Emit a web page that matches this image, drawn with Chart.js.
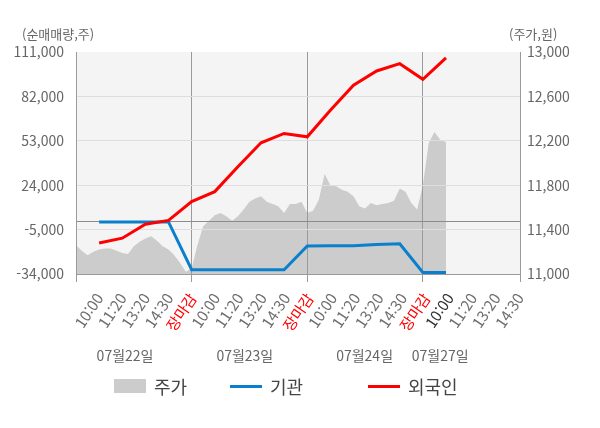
<!DOCTYPE html>
<html lang="ko">
<head>
<meta charset="utf-8">
<title>순매매량 / 주가</title>
<script src="https://cdn.jsdelivr.net/npm/chart.js@4.4.1/dist/chart.umd.min.js"></script>
<style>
    body { margin: 0; background: #fff; }
    #wrap { position: relative; width: 600px; height: 428px; font-family: 'Noto Sans CJK KR', 'Noto Sans', sans-serif; }
    #plotBg { position: absolute; background: #f4f4f4; }
    #flowChart { position: absolute; left: 0; top: 0; }
    .unit { position: absolute; top: 26px; font-size: 13px; line-height: 16px; color: #666; }
    .legend-item { position: absolute; top: 374px; height: 24px; display: flex; align-items: center; font-size: 18px; color: #444; }
    .legend-item i { display: inline-block; width: 32px; margin-right: 8px; }
</style>
</head>
<body>
<div id="wrap">
    <div id="plotBg"></div>
    <canvas id="flowChart" width="600" height="428"></canvas>
    <div class="unit" style="left:22px">(순매매량,주)</div>
    <div class="unit" style="left:509px">(주가,원)</div>
    <div id="legend"></div>
</div>
<script>
// x 축 라벨 (장중 시각)
const timeLabels = [
    '10:00', '11:20', '13:20', '14:30', '장마감',
    '10:00', '11:20', '13:20', '14:30', '장마감',
    '10:00', '11:20', '13:20', '14:30', '장마감',
    '10:00', '11:20', '13:20', '14:30'
];
const dayLabels = ['07월22일', '07월23일', '07월24일', '07월27일'];
const seriesNames = ['주가', '기관', '외국인'];

const volumeTicks = [-34000, -5000, 24000, 53000, 82000, 111000];
const priceTicks = [11000, 11400, 11800, 12200, 12600, 13000];

// 누적 순매매량 (라벨 시각마다 한 점)
const institution = [0, 0, 0, 0, -31200, -31200, -31200, -31200, -31200, -15700, -15600, -15500, -14700, -14300, -33000, -33000];
const foreign = [-13800, -10600, -1500, 1000, 13300, 19800, 36100, 51700, 57800, 55600, 73000, 89300, 98600, 103400, 93200, 107100];

// 주가 (라벨 간격의 1/4 마다)
const priceStep = 0.25;
const price = [
    11260, 11210, 11170, 11200, 11220, 11230, 11230, 11210, 11190, 11180,
    11250, 11290, 11320, 11340, 11300, 11250, 11220, 11170, 11100, 11020,
    11050, 11260, 11430, 11480, 11530, 11550, 11520, 11480, 11520, 11580,
    11650, 11680, 11700, 11650, 11630, 11610, 11550, 11630, 11630, 11650,
    11550, 11570, 11670, 11900, 11800, 11790, 11760, 11740, 11700, 11610,
    11590, 11640, 11620, 11630, 11640, 11660, 11770, 11740, 11640, 11580,
    11800, 12180, 12280, 12210, 12190
];

document.addEventListener("DOMContentLoaded", function () {
    const xMax = 19.2;
    const grey = '#9a9a9a';

    Chart.defaults.font.family = "'Noto Sans CJK KR', 'Noto Sans', sans-serif";
    Chart.defaults.font.size = 14;
    Chart.defaults.color = '#666';

    // 차트 영역 배경은 캔버스 뒤의 div 로 (그리드가 주가 영역 위에 보이도록)
    const plotBackground = {
        id: 'plotBackground',
        afterLayout(chart) {
            const a = chart.chartArea;
            const bg = document.getElementById('plotBg');
            bg.style.left = a.left + 'px';
            bg.style.top = a.top + 'px';
            bg.style.width = (a.right - a.left) + 'px';
            bg.style.height = (a.bottom - a.top) + 'px';
        }
    };

    const ctx = document.getElementById('flowChart').getContext('2d');
    new Chart(ctx, {
        type: 'line',
        data: {
            datasets: [{
                label: seriesNames[0],
                data: price.map((v, i) => ({ x: i * priceStep, y: v })),
                yAxisID: 'y1',
                backgroundColor: '#cccccc',
                borderWidth: 0,
                pointRadius: 0,
                fill: 'start',
                order: 3
            }, {
                label: seriesNames[1],
                data: institution.map((v, i) => ({ x: i + 1, y: v })),
                yAxisID: 'y',
                borderColor: '#0a80cc',
                borderWidth: 3,
                pointRadius: 0,
                fill: false,
                order: 2
            }, {
                label: seriesNames[2],
                data: foreign.map((v, i) => ({ x: i + 1, y: v })),
                yAxisID: 'y',
                borderColor: '#ff0000',
                borderWidth: 3,
                pointRadius: 0,
                fill: false,
                order: 1
            }]
        },
        options: {
            responsive: false,
            animation: false,
            events: [],
            layout: { padding: { top: 52, left: 0, right: 0, bottom: 60 } },
            plugins: {
                legend: { display: false },
                tooltip: { enabled: false },
                filler: { drawTime: 'beforeDraw' }
            },
            scales: {
                x: {
                    type: 'linear', position: 'bottom', weight: 0,
                    min: 0, max: xMax,
                    afterBuildTicks: s => { s.ticks = [0, 5, 10, 15, xMax].map(v => ({ value: v })); },
                    ticks: { display: false },
                    grid: {
                        color: c => (c.tick && (c.tick.value === 0 || c.tick.value === xMax)) ? 'rgba(0,0,0,0)' : grey,
                        tickColor: grey,
                        tickLength: 8
                    },
                    border: { color: grey },
                    afterFit: s => { s.height = 8; }
                },
                xTime: {
                    type: 'linear', position: 'bottom', weight: 1,
                    min: 0, max: xMax,
                    afterBuildTicks: s => { s.ticks = timeLabels.map((_, i) => ({ value: (i + 1) * xMax / timeLabels.length })); },
                    grid: { display: false },
                    border: { display: false },
                    ticks: {
                        autoSkip: false,
                        minRotation: 56,
                        maxRotation: 56,
                        padding: 0,
                        font: { size: 15 },
                        color: c => timeLabels[c.index] === '장마감' ? '#ff0000' : (c.index === 15 ? '#333' : '#6e6e6e'),
                        callback: (v, i) => timeLabels[i]
                    },
                    afterFit: s => { s.height = 56; }
                },
                xDay: {
                    type: 'linear', position: 'bottom', weight: 2,
                    min: 0, max: xMax,
                    afterBuildTicks: s => { s.ticks = [2.12, 7.3, 12.48, 15.75].map(v => ({ value: v })); },
                    grid: { display: false },
                    border: { display: false },
                    ticks: { autoSkip: false, maxRotation: 0, padding: 1, callback: (v, i) => dayLabels[i] },
                    afterFit: s => { s.height = 30; }
                },
                y: {
                    position: 'left',
                    min: volumeTicks[0], max: volumeTicks[volumeTicks.length - 1],
                    afterBuildTicks: s => {
                        s.ticks = volumeTicks.concat([0]).sort((a, b) => a - b).map(v => ({ value: v }));
                    },
                    ticks: {
                        autoSkip: false,
                        padding: 12,
                        callback: v => v === 0 ? '' : v.toLocaleString('en-US')
                    },
                    grid: {
                        drawTicks: false,
                        color: c => {
                            if (!c.tick) return '#dedede';
                            if (c.tick.value === 0) return '#8c8c8c';
                            if (c.tick.value === volumeTicks[volumeTicks.length - 1]) return 'rgba(0,0,0,0)';
                            return '#dedede';
                        }
                    },
                    border: { color: grey },
                    afterFit: s => { s.width = 76; }
                },
                y1: {
                    position: 'right',
                    min: priceTicks[0], max: priceTicks[priceTicks.length - 1],
                    afterBuildTicks: s => { s.ticks = priceTicks.map(v => ({ value: v })); },
                    ticks: { autoSkip: false, padding: 7, callback: v => v.toLocaleString('en-US') },
                    grid: { drawOnChartArea: false, drawTicks: false },
                    border: { color: grey },
                    afterFit: s => { s.width = 80; }
                }
            }
        },
        plugins: [plotBackground]
    });

    // 범례
    const legend = document.getElementById('legend');
    const swatches = [
        { left: 114, style: 'height:14px;background:#cccccc' },
        { left: 230, style: 'height:3px;background:#0a80cc' },
        { left: 368, style: 'height:3px;background:#ff0000' }
    ];
    seriesNames.forEach((name, i) => {
        const item = document.createElement('div');
        item.className = 'legend-item';
        item.style.left = swatches[i].left + 'px';
        item.innerHTML = '<i style="' + swatches[i].style + '"></i><span>' + name + '</span>';
        legend.appendChild(item);
    });
});
</script>
</body>
</html>
